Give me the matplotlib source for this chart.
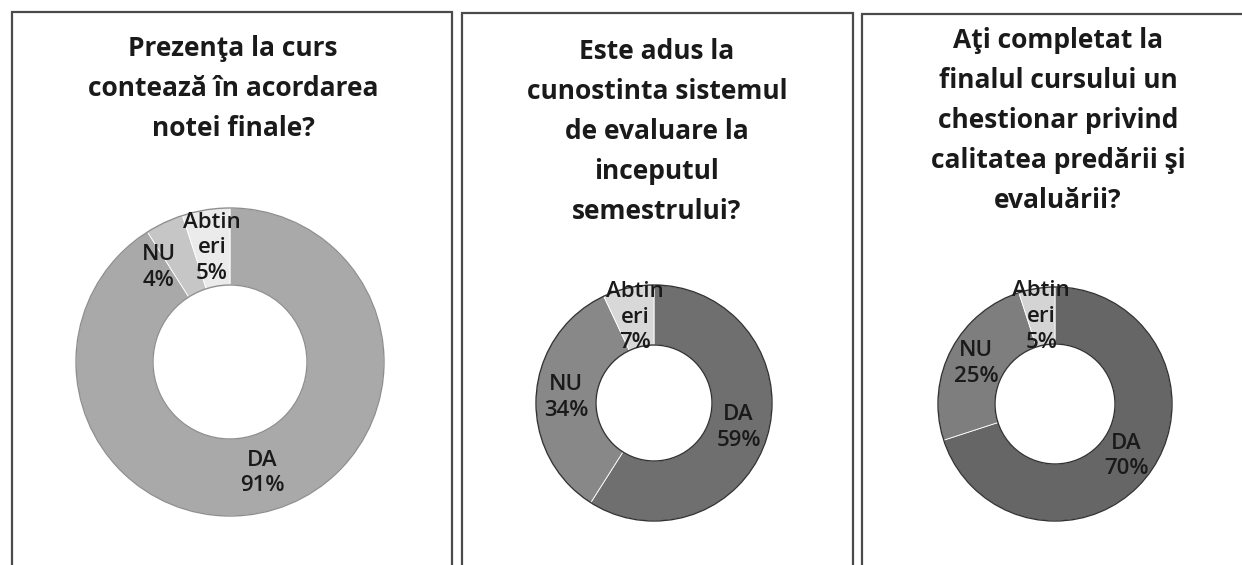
import matplotlib.pyplot as plt
from matplotlib.patches import Rectangle, Circle
import numpy as np

# survey answers, one donut per question
titles = [
    "Prezenţa la curs\ncontează în acordarea\nnotei finale?",
    "Este adus la\ncunostinta sistemul\nde evaluare la\ninceputul\nsemestrului?",
    "Aţi completat la\nfinalul cursului un\nchestionar privind\ncalitatea predării şi\nevaluării?",
]
answers = ["DA", "NU", "Abtin\neri"]
values_1 = [91, 4, 5]
values_2 = [59, 34, 7]
values_3 = [70, 25, 5]

colors_1 = ["#a9a9a9", "#c6c6c6", "#ebebeb"]
colors_2 = ["#6f6f6f", "#888888", "#d8d8d8"]
colors_3 = ["#666666", "#7e7e7e", "#d4d4d4"]

W, H = 1242, 565
plt.rcParams["font.family"] = ["Open Sans", "DejaVu Sans"]
fig = plt.figure(figsize=(W / 100, H / 100), dpi=100)
ax = fig.add_axes([0, 0, 1, 1])
ax.axis("off")

# layout in image pixels (x, y from top)
frames = [(12, 12, 452), (462, 13, 853), (862, 14, 1260)]
centers = [(230, 362), (654, 403), (1055, 404)]
outer = [154, 118, 117]
inner = [77, 58, 60]
title_y = [35, 38, 27]
edge = ["#8f8f8f", "#333333", "#333333"]
# excel pushed the small NU label of the first chart sideways
nudge = {(0, 1): (-22, 10)}

for x0, y0, x1 in frames:
    ax.add_patch(Rectangle((x0, -5), x1 - x0, H - y0 + 5, fill=False,
                           edgecolor="#4a4a4a", linewidth=1.6))

for i, (vals, cols) in enumerate(zip([values_1, values_2, values_3],
                                     [colors_1, colors_2, colors_3])):
    cx, cy = centers[i]
    cy = H - cy
    R = outer[i]
    wedges, _ = ax.pie(vals, colors=cols, startangle=90, counterclock=False,
                       center=(cx, cy), radius=R,
                       wedgeprops=dict(width=R - inner[i], edgecolor="white", linewidth=0.6))
    for r in (R, inner[i]):
        ax.add_patch(Circle((cx, cy), r, fill=False, edgecolor=edge[i], linewidth=1.0))
    rm = (R + inner[i]) / 2
    for j, w in enumerate(wedges):
        ang = np.deg2rad((w.theta1 + w.theta2) / 2)
        dx, dy = nudge.get((i, j), (0, 0))
        ax.text(cx + rm * np.cos(ang) + dx, cy + rm * np.sin(ang) - dy,
                f"{answers[j]}\n{vals[j]}%", ha="center", va="center",
                fontsize=16, fontweight="semibold", color="#1a1a1a", linespacing=1.3)
    ax.text(cx + 3, H - title_y[i], titles[i], ha="center", va="top",
            fontsize=19, fontweight="bold", color="#1a1a1a", linespacing=1.62)

ax.set_xlim(0, W)
ax.set_ylim(0, H)
ax.set_aspect("auto")
fig.savefig("out.png", dpi=100)
